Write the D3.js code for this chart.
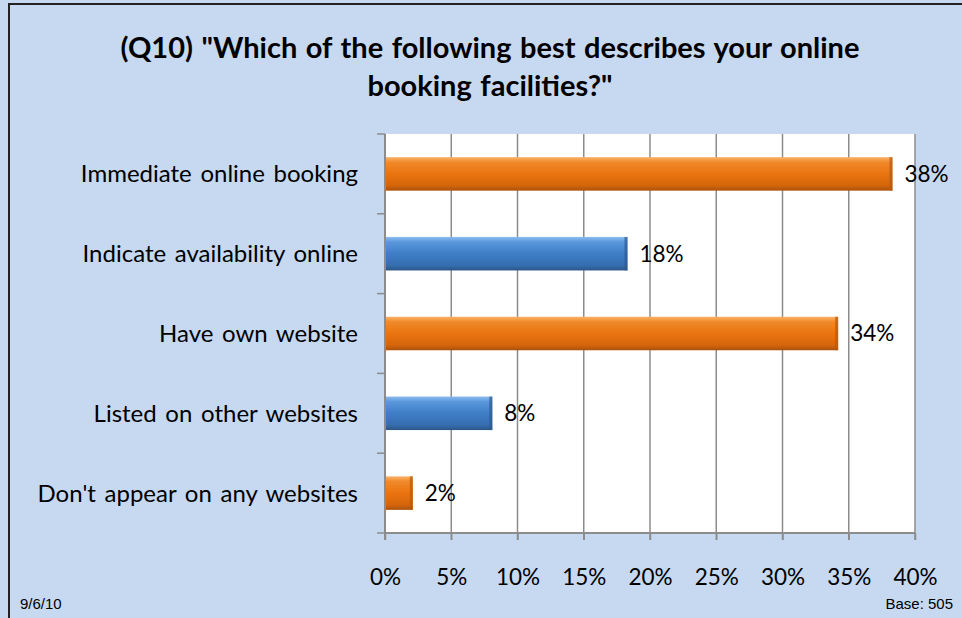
<!DOCTYPE html>
<html lang="en">
<head>
    <meta charset="UTF-8">
    <title>Q10 online booking facilities</title>
    <script src="https://cdn.jsdelivr.net/npm/d3@7"></script>
    <style>
        body {
            margin: 0;
            background: white;
        }
        svg {
            display: block;
        }
        text {
            font-family: Lato, "Open Sans", sans-serif;
            fill: #000;
        }
        .small {
            font-family: "Liberation Sans", Arial, sans-serif;
        }
    </style>
</head>
<body>
    <script>
        // data
        const categories = ["Immediate online booking", "Indicate availability online", "Have own website",
            "Listed on other websites", "Don't appear on any websites"];
        const values = [38.3, 18.3, 34.2, 8.1, 2.1];
        const barColors = ["orange", "blue", "orange", "blue", "orange"];
        const xTicks = [0, 5, 10, 15, 20, 25, 30, 35, 40];
        const titleLines = ['(Q10) "Which of the following best describes your online', 'booking facilities?"'];

        const width = 962;
        const height = 618;

        let svg = d3.select("body").append("svg")
            .attr("width", width)
            .attr("height", height);

        // gradients for the bevelled bars
        let defs = svg.append("defs");
        const gradStops = {
            orange: ["#fbb26a", "#f08a2a", "#ea740f", "#d5650b", "#a9520d"],
            blue: ["#8cbcef", "#5a98dc", "#3f7ec7", "#356eb0", "#2a5687"]
        };
        Object.keys(gradStops).forEach(k => {
            let g = defs.append("linearGradient")
                .attr("id", "grad_" + k)
                .attr("x1", 0).attr("y1", 0).attr("x2", 0).attr("y2", 1);
            const offs = [0, 0.15, 0.5, 0.85, 1];
            gradStops[k].forEach((c, i) => {
                g.append("stop").attr("offset", offs[i]).attr("stop-color", c);
            });
        });

        // background + frame
        svg.append("rect")
            .attr("x", 0).attr("y", 0)
            .attr("width", width).attr("height", height)
            .attr("fill", "#c6d9f1");
        svg.append("path")
            .attr("d", `M9,${height} V4 H${width}`)
            .attr("fill", "none")
            .attr("stroke", "#222")
            .attr("stroke-width", 2);

        // title
        svg.append("text")
            .attr("x", 490)
            .attr("y", 58)
            .attr("text-anchor", "middle")
            .style("font-weight", "bold")
            .style("font-size", "29px")
            .style("word-spacing", "1.5px")
            .selectAll("tspan")
            .data(titleLines)
            .enter()
            .append("tspan")
            .attr("x", 490)
            .attr("dy", (d, i) => i === 0 ? 0 : 38)
            .text(d => d);

        // plot area
        const margin = { left: 385, right: 915, top: 134, bottom: 533 };

        let x = d3.scaleLinear()
            .domain([0, 40])
            .range([margin.left, margin.right]);

        let y = d3.scaleBand()
            .domain(categories)
            .range([margin.top, margin.bottom])
            .paddingInner(0.58)
            .paddingOuter(0.29);

        svg.append("rect")
            .attr("x", margin.left)
            .attr("y", margin.top)
            .attr("width", margin.right - margin.left)
            .attr("height", margin.bottom - margin.top)
            .attr("fill", "white");

        // gridlines
        svg.append("g")
            .selectAll("line")
            .data(xTicks.slice(1))
            .enter()
            .append("line")
            .attr("x1", d => x(d)).attr("x2", d => x(d))
            .attr("y1", margin.top).attr("y2", margin.bottom + 7)
            .attr("stroke", "#8c8c8c")
            .attr("stroke-width", 1.5);

        // bottom axis
        let xAxis = d3.axisBottom(x)
            .tickValues(xTicks)
            .tickSize(7)
            .tickPadding(29)
            .tickFormat(d => d + "%");
        let gx = svg.append("g")
            .attr("transform", `translate(0,${margin.bottom})`)
            .call(xAxis);
        gx.select(".domain").attr("stroke", "#8c8c8c").attr("stroke-width", 2)
            .attr("d", `M${margin.left},0H${margin.right}`);
        gx.selectAll(".tick line").attr("stroke", "#8c8c8c").attr("stroke-width", 1.5);
        gx.selectAll(".tick text")
            .style("font-family", "Lato, 'Open Sans', sans-serif")
            .style("font-size", "22.5px")
            .attr("fill", "#000");

        // left axis with ticks at band boundaries
        const boundaries = d3.range(categories.length + 1).map(i => margin.top + i * (margin.bottom - margin.top) / categories.length);
        let gy = svg.append("g");
        gy.append("line")
            .attr("x1", margin.left).attr("x2", margin.left)
            .attr("y1", margin.top).attr("y2", margin.bottom + 7)
            .attr("stroke", "#8c8c8c").attr("stroke-width", 2);
        gy.selectAll(".ytick")
            .data(boundaries)
            .enter()
            .append("line")
            .attr("x1", margin.left - 8).attr("x2", margin.left)
            .attr("y1", d => d).attr("y2", d => d)
            .attr("stroke", "#8c8c8c").attr("stroke-width", 1.5);

        gy.selectAll(".ylabel")
            .data(categories)
            .enter()
            .append("text")
            .attr("x", 358)
            .attr("y", d => y(d) + y.bandwidth() / 2)
            .attr("dy", "0.35em")
            .attr("text-anchor", "end")
            .style("font-size", "24px")
            .style("word-spacing", "2.5px")
            .text(d => d);

        // bars
        let bars = svg.append("g")
            .selectAll("g")
            .data(categories.map((c, i) => ({ cat: c, value: values[i], color: barColors[i] })))
            .enter()
            .append("g");

        bars.append("rect")
            .attr("x", x(0) + 1)
            .attr("y", d => y(d.cat))
            .attr("width", d => x(d.value) - x(0) - 1)
            .attr("height", y.bandwidth())
            .attr("fill", d => `url(#grad_${d.color})`);

        // darker right end cap
        bars.append("rect")
            .attr("x", d => x(d.value) - 3)
            .attr("y", d => y(d.cat))
            .attr("width", 3)
            .attr("height", y.bandwidth())
            .attr("fill", d => d.color === "orange" ? "#b85a0c" : "#2d5a8e")
            .attr("opacity", 0.7);

        // value labels
        bars.append("text")
            .attr("x", d => x(d.value) + 12)
            .attr("y", d => y(d.cat) + y.bandwidth() / 2)
            .attr("dy", "0.35em")
            .style("font-size", "22.5px")
            .text(d => Math.round(d.value) + "%");

        // footer
        svg.append("text")
            .attr("class", "small")
            .attr("x", 20)
            .attr("y", 609)
            .style("font-size", "15px")
            .text("9/6/10");
        svg.append("text")
            .attr("class", "small")
            .attr("x", 953)
            .attr("y", 609)
            .attr("text-anchor", "end")
            .style("font-size", "15px")
            .text("Base: 505");
    </script>
</body>
</html>
